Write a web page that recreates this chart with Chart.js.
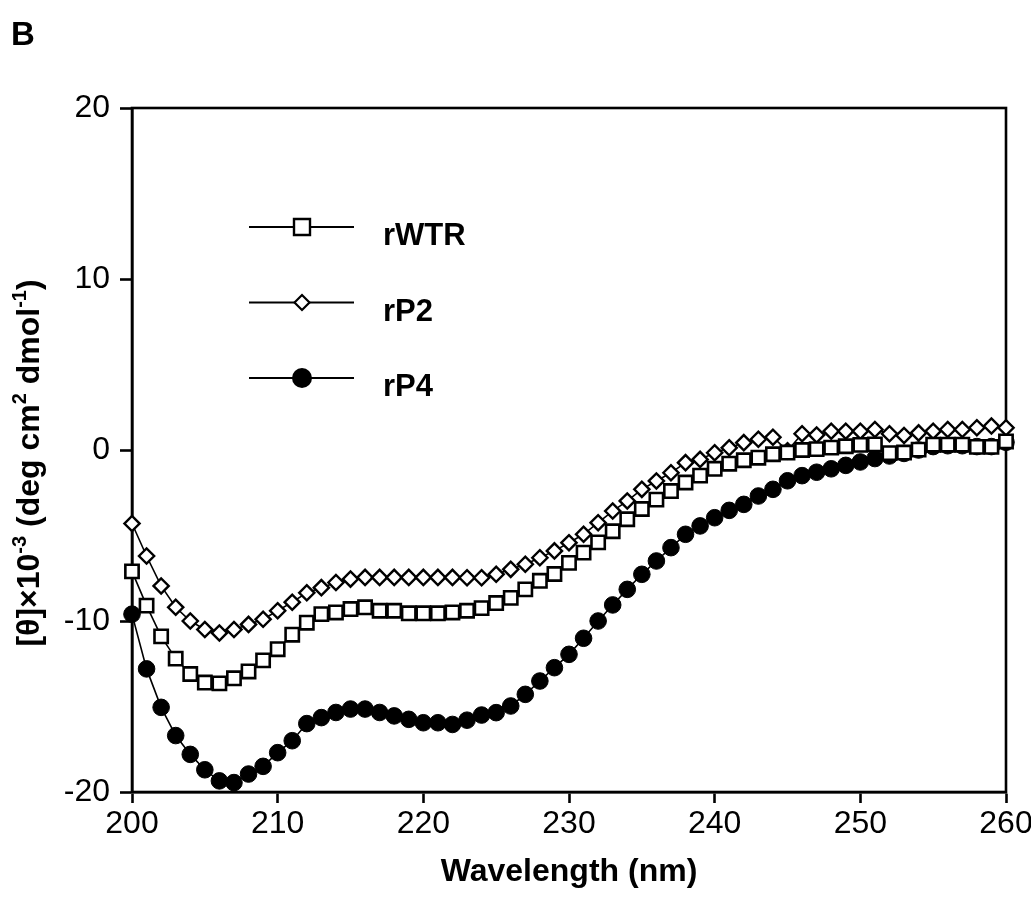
<!DOCTYPE html>
<html>
<head>
<meta charset="utf-8">
<script src="https://cdn.jsdelivr.net/npm/chart.js@4.4.1/dist/chart.umd.min.js"></script>
<style>
  html, body { margin: 0; padding: 0; background: #ffffff; }
  #wrap { width: 1031px; height: 911px; position: relative; }
</style>
</head>
<body>
<div id="wrap"><canvas id="c" width="1031" height="911"></canvas></div>
<script>
// ---------- data ----------
const wavelengths = [
  200, 201, 202, 203, 204, 205, 206, 207, 208, 209,
  210, 211, 212, 213, 214, 215, 216, 217, 218, 219,
  220, 221, 222, 223, 224, 225, 226, 227, 228, 229,
  230, 231, 232, 233, 234, 235, 236, 237, 238, 239,
  240, 241, 242, 243, 244, 245, 246, 247, 248, 249,
  250, 251, 252, 253, 254, 255, 256, 257, 258, 259,
  260
];
const rWTR = [
  -7.1, -9.1, -10.9, -12.2, -13.1, -13.6, -13.65, -13.35, -12.95, -12.3,
  -11.65, -10.8, -10.1, -9.6, -9.5, -9.3, -9.2, -9.4, -9.4, -9.55,
  -9.55, -9.55, -9.5, -9.4, -9.25, -8.95, -8.65, -8.15, -7.65, -7.25,
  -6.6, -6.0, -5.4, -4.75, -4.05, -3.45, -2.9, -2.4, -1.9, -1.5,
  -1.1, -0.8, -0.6, -0.45, -0.25, -0.15, 0.0, 0.05, 0.14, 0.22,
  0.3, 0.33, -0.18, -0.15, 0.02, 0.31, 0.31, 0.31, 0.18, 0.18,
  0.5
];
const rP2 = [
  -4.3, -6.2, -7.95, -9.2, -10.0, -10.5, -10.7, -10.5, -10.2, -9.9,
  -9.4, -8.9, -8.35, -8.05, -7.75, -7.55, -7.45, -7.45, -7.45, -7.45,
  -7.45, -7.45, -7.45, -7.47, -7.47, -7.27, -6.98, -6.68, -6.3, -5.9,
  -5.42, -4.93, -4.25, -3.57, -2.98, -2.3, -1.81, -1.33, -0.74, -0.55,
  -0.16, 0.13, 0.43, 0.63, 0.75, -0.05, 0.95, 0.88, 1.1, 1.1,
  1.1, 1.2, 0.95, 0.85, 1.0, 1.1, 1.2, 1.2, 1.3, 1.4,
  1.3
];
const rP4 = [
  -9.6, -12.8, -15.05, -16.7, -17.8, -18.7, -19.35, -19.45, -18.95, -18.5,
  -17.7, -17.0, -16.0, -15.65, -15.35, -15.15, -15.15, -15.35, -15.55, -15.75,
  -15.95, -15.95, -16.05, -15.8, -15.5, -15.36, -14.97, -14.29, -13.51, -12.73,
  -11.95, -11.01, -10.0, -9.06, -8.15, -7.27, -6.49, -5.71, -4.93, -4.44,
  -3.96, -3.53, -3.18, -2.69, -2.3, -1.8, -1.5, -1.3, -1.1, -0.9,
  -0.7, -0.5, -0.35, -0.2, 0.0, 0.2, 0.25, 0.25, 0.2, 0.2,
  0.45
];
const seriesNames = ['rWTR', 'rP2', 'rP4'];
const xTicks = [200, 210, 220, 230, 240, 250, 260];
const yTicks = [-20, -10, 0, 10, 20];
const xTitle = 'Wavelength (nm)';
const panelLabel = 'B';

// ---------- styling ----------
const FONT = '"Liberation Sans", Arial, Helvetica, sans-serif';
const toXY = (ys) => wavelengths.map((x, i) => ({ x: x, y: ys[i] }));

const markerStyles = [
  { pointStyle: 'rect',    pointRadius: 9.4, pointBackgroundColor: '#ffffff', pointBorderWidth: 2.6 },
  { pointStyle: 'rectRot', pointRadius: 7.6, pointBackgroundColor: '#ffffff', pointBorderWidth: 2.4 },
  { pointStyle: 'circle',  pointRadius: 8.3, pointBackgroundColor: '#000000', pointBorderWidth: 1 }
];
const seriesValues = [rWTR, rP2, rP4];

const datasets = seriesNames.map((name, i) => Object.assign({
  label: name,
  data: toXY(seriesValues[i]),
  borderColor: '#000000',
  borderWidth: 1.6,
  pointBorderColor: '#000000',
  tension: 0,
  fill: false,
  clip: false
}, markerStyles[i]));

// ---------- plugin: frame, legend, y title, panel letter ----------
const decorations = {
  id: 'decorations',
  beforeDatasetsDraw(chart) {
    const { ctx, chartArea: a } = chart;
    ctx.save();
    ctx.strokeStyle = '#000';
    ctx.lineWidth = 2.6;
    ctx.strokeRect(a.left, a.top, a.right - a.left, a.bottom - a.top);
    ctx.restore();
  },
  afterDatasetsDraw(chart) {
    const { ctx, chartArea: a } = chart;
    ctx.save();
    chart.data.datasets.forEach((ds, i) => {
      const y = a.top + 119 + i * 75.5;
      const x1 = a.left + 117, x2 = a.left + 222, mx = a.left + 170;
      ctx.strokeStyle = '#000';
      ctx.lineWidth = 2;
      ctx.beginPath(); ctx.moveTo(x1, y); ctx.lineTo(x2, y); ctx.stroke();
      ctx.beginPath();
      if (ds.pointStyle === 'rect') {
        ctx.rect(mx - 8, y - 8, 16, 16);
        ctx.fillStyle = '#fff'; ctx.fill(); ctx.lineWidth = 2.4; ctx.stroke();
      } else if (ds.pointStyle === 'rectRot') {
        ctx.moveTo(mx - 7.5, y); ctx.lineTo(mx, y - 7.5); ctx.lineTo(mx + 7.5, y); ctx.lineTo(mx, y + 7.5); ctx.closePath();
        ctx.fillStyle = '#fff'; ctx.fill(); ctx.lineWidth = 2.2; ctx.stroke();
      } else {
        ctx.arc(mx, y, 10, 0, Math.PI * 2);
        ctx.fillStyle = '#000'; ctx.fill();
      }
      ctx.fillStyle = '#000';
      ctx.font = 'bold 31px ' + FONT;
      ctx.textAlign = 'left';
      ctx.textBaseline = 'alphabetic';
      ctx.fillText(ds.label, a.left + 251, y + 18);
    });
    ctx.restore();
  },
  afterDraw(chart) {
    const { ctx } = chart;
    ctx.save();
    // panel letter
    ctx.fillStyle = '#000';
    ctx.font = 'bold 33px ' + FONT;
    ctx.textAlign = 'left';
    ctx.textBaseline = 'alphabetic';
    ctx.fillText(panelLabel, 11, 45);
    // y-axis title with superscripts
    const parts = [
      { t: '[\u03B8]\u00D710', s: false },
      { t: '-3', s: true },
      { t: ' (deg cm', s: false },
      { t: '2', s: true },
      { t: ' dmol', s: false },
      { t: '-1', s: true },
      { t: ')', s: false }
    ];
    const mainF = 'bold 32px ' + FONT, supF = 'bold 20px ' + FONT;
    let total = 0;
    parts.forEach(p => { ctx.font = p.s ? supF : mainF; p.w = ctx.measureText(p.t).width; total += p.w; });
    ctx.translate(39, 463);
    ctx.rotate(-Math.PI / 2);
    let x = -total / 2;
    parts.forEach(p => {
      ctx.font = p.s ? supF : mainF;
      ctx.fillText(p.t, x, p.s ? -13 : 0);
      x += p.w;
    });
    ctx.restore();
  }
};

new Chart(document.getElementById('c'), {
  type: 'line',
  data: { datasets: datasets },
  plugins: [decorations],
  options: {
    responsive: false,
    animation: false,
    devicePixelRatio: 1,
    layout: { padding: { left: 0, right: 25, top: 108, bottom: 0 } },
    plugins: { legend: { display: false }, tooltip: { enabled: false } },
    scales: {
      x: {
        type: 'linear',
        min: xTicks[0],
        max: xTicks[xTicks.length - 1],
        afterBuildTicks: (s) => { s.ticks = xTicks.map(v => ({ value: v })); },
        afterFit: (s) => { s.height = 119; s.paddingLeft = 0; s.paddingRight = 0; },
        grid: { display: true, drawOnChartArea: false, drawTicks: true, tickLength: 11, tickWidth: 2.6, tickColor: '#000' },
        border: { display: true, color: '#000', width: 2.6 },
        ticks: { color: '#000', font: { family: FONT, size: 32 }, padding: 2, maxRotation: 0, autoSkip: false },
        title: { display: true, text: xTitle, color: '#000', font: { family: FONT, size: 32, weight: 'bold' }, padding: { top: 0, bottom: 20 } }
      },
      y: {
        type: 'linear',
        min: yTicks[0],
        max: yTicks[yTicks.length - 1],
        afterBuildTicks: (s) => { s.ticks = yTicks.map(v => ({ value: v })); },
        afterFit: (s) => { s.width = 132; },
        grid: { display: true, drawOnChartArea: false, drawTicks: true, tickLength: 12, tickWidth: 2.6, tickColor: '#000' },
        border: { display: true, color: '#000', width: 2.6 },
        ticks: { color: '#000', font: { family: FONT, size: 32 }, padding: 10, autoSkip: false }
      }
    }
  }
});
</script>
</body>
</html>
